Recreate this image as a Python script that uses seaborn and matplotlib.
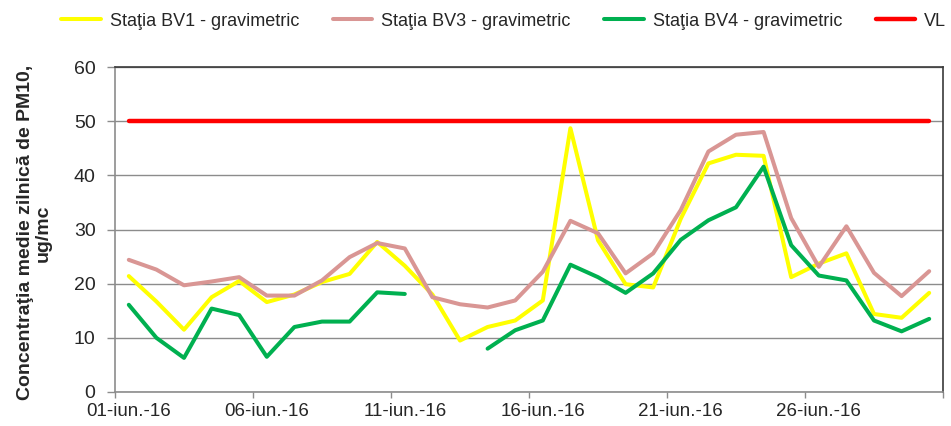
import numpy as np
import pandas as pd
import matplotlib
matplotlib.use("Agg")
import matplotlib.pyplot as plt
import seaborn as sns

# data (daily PM10, June 2016)
days = list(range(30))
bv1 = [21.4, 16.7, 11.5, 17.5, 20.5, 16.6, 18.0, 20.3, 21.8, 27.7,
       23.3, 18.0, 9.5, 12.0, 13.2, 16.9, 48.7, 28.0, 19.9, 19.3,
       32.0, 42.2, 43.8, 43.6, 21.2, 23.7, 25.6, 14.4, 13.7, 18.3]
bv3 = [24.4, 22.6, 19.7, 20.4, 21.2, 17.8, 17.8, 20.6, 24.9, 27.5,
       26.5, 17.5, 16.2, 15.6, 16.9, 22.2, 31.6, 29.3, 21.9, 25.6,
       33.6, 44.4, 47.5, 48.0, 32.1, 23.1, 30.6, 22.0, 17.7, 22.3]
bv4 = [16.1, 10.0, 6.3, 15.4, 14.2, 6.5, 12.0, 13.0, 13.0, 18.4,
       18.1, np.nan, np.nan, 8.0, 11.4, 13.2, 23.5, 21.2, 18.3, 21.9,
       28.1, 31.7, 34.1, 41.6, 27.1, 21.5, 20.6, 13.2, 11.2, 13.5]
vl = [50] * 30
tick_pos = [0, 5, 10, 15, 20, 25]
tick_labels = ["01-iun.-16", "06-iun.-16", "11-iun.-16",
               "16-iun.-16", "21-iun.-16", "26-iun.-16"]
names = ["Staţia BV1 - gravimetric", "Staţia BV3 - gravimetric",
         "Staţia BV4 - gravimetric", "VL"]

sns.set_style("white")
plt.rcParams["font.family"] = ["Liberation Sans", "DejaVu Sans"]

df = pd.DataFrame({"day": days, "bv1": bv1, "bv3": bv3, "bv4": bv4, "vl": vl})
# green series has a gap (12-13 June) -> draw as two pieces
seg1 = df[df["day"] <= 10]
seg2 = df[df["day"] >= 13]

fig = plt.figure(figsize=(9.51, 4.26), dpi=100)
ax = fig.add_axes([115 / 951, 1 - 392 / 426, 828 / 951, 325 / 426])

lw = 2.9
sns.lineplot(data=df, x="day", y="bv1", color="#FFFF00", linewidth=lw, ax=ax, label=names[0])
sns.lineplot(data=df, x="day", y="bv3", color="#D99694", linewidth=lw, ax=ax, label=names[1])
sns.lineplot(data=seg1, x="day", y="bv4", color="#00B050", linewidth=lw, ax=ax, label=names[2])
sns.lineplot(data=seg2, x="day", y="bv4", color="#00B050", linewidth=lw, ax=ax)
sns.lineplot(data=df, x="day", y="vl", color="#FF0000", linewidth=3.2, ax=ax, label=names[3])

ax.set_xlim(-0.5, 29.5)
ax.set_ylim(0, 60)
ax.set_yticks(range(0, 61, 10))
ax.grid(axis="y", color="#8c8c8c", linewidth=1.0)
ax.set_axisbelow(True)

# major ticks on the day boundaries, labels centred on the days
ax.set_xticks([p - 0.5 for p in tick_pos] + [29.5])
ax.set_xticklabels([])
ax.set_xticks(tick_pos, minor=True)
ax.set_xticklabels(tick_labels, minor=True)
ax.tick_params(axis="x", which="major", length=4, width=1, color="#8c8c8c", direction="out")
ax.tick_params(axis="x", which="minor", length=0, pad=8, labelsize=13.5)
ax.tick_params(axis="y", length=6, width=1, color="#8c8c8c", direction="out", pad=8, labelsize=14)
ax.tick_params(axis="both", left=True, bottom=True)

for s in ["left", "bottom"]:
    ax.spines[s].set_color("#8c8c8c")
    ax.spines[s].set_linewidth(1.2)
for s in ["top", "right"]:
    ax.spines[s].set_visible(True)
    ax.spines[s].set_color("#3a3a3a")
    ax.spines[s].set_linewidth(1.2)

ax.set_xlabel("")
ax.set_ylabel("Concentraţia medie zilnică de PM10,\nug/mc", fontsize=14,
              fontweight="bold", linespacing=1.1)
ax.yaxis.set_label_coords(-0.076, 0.49)

handles, labels = ax.get_legend_handles_labels()
ax.get_legend().remove()
fig.legend(handles, labels, loc="center left", bbox_to_anchor=(61 / 951, 1 - 21 / 426),
           ncol=4, frameon=False, fontsize=13, handlelength=2.2, handletextpad=0.5,
           columnspacing=1.85, borderpad=0, borderaxespad=0)

fig.savefig("out.png", dpi=100)
